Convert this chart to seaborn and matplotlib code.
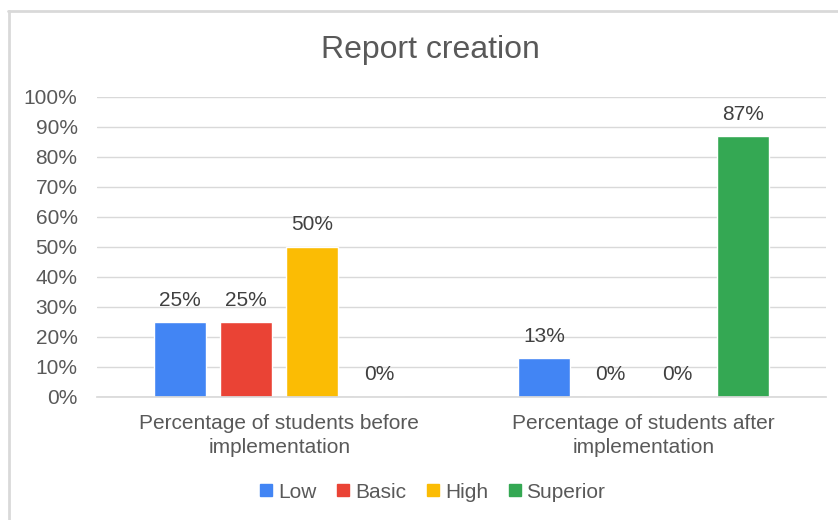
import matplotlib
matplotlib.use("Agg")
import matplotlib.pyplot as plt
import seaborn as sns
import pandas as pd
from matplotlib.lines import Line2D
from matplotlib.ticker import FuncFormatter

groups = ["Percentage of students before\nimplementation",
          "Percentage of students after\nimplementation"]
levels = ["Low", "Basic", "High", "Superior"]
before = [25, 25, 50, 0]
after = [13, 0, 0, 87]
colors = ["#4285F4", "#EA4335", "#FBBC04", "#34A853"]

rows = []
for g, vals in zip(groups, [before, after]):
    for lv, v in zip(levels, vals):
        rows.append({"group": g, "level": lv, "value": v})
df = pd.DataFrame(rows)

sns.set_theme(style="white")
plt.rcParams["font.family"] = ["Liberation Sans", "DejaVu Sans"]
text_c = "#595959"

fig = plt.figure(figsize=(8.38, 5.2), dpi=100)
ax = fig.add_axes([97/838, 1-397/520, (826-97)/838, 300/520])

sns.barplot(data=df, x="group", y="value", hue="level", hue_order=levels,
            palette=colors, width=0.729, gap=0.218, ax=ax, saturation=1,
            legend=False)

for cont in ax.containers:
    ax.bar_label(cont, fmt="%.0f%%", padding=9, fontsize=15, color="#404040")

ax.set_xlim(-0.5, 1.5)
ax.set_ylim(0, 100)
ax.set_yticks(range(0, 101, 10))
ax.yaxis.set_major_formatter(FuncFormatter(lambda v, p: f"{v:.0f}%"))
ax.set_xlabel("")
ax.set_ylabel("")
ax.grid(axis="y", color="#d9d9d9", linewidth=1)
ax.set_axisbelow(True)
for s in ["top", "right", "left"]:
    ax.spines[s].set_visible(False)
ax.spines["bottom"].set_color("#d9d9d9")
ax.tick_params(axis="both", length=0, labelsize=15, colors=text_c)
ax.tick_params(axis="y", pad=14)
ax.tick_params(axis="x", pad=12)
for t in ax.get_xticklabels():
    t.set_linespacing(1.35)

fig.text(430/838, 1-50/520, "Report creation", ha="center", va="center",
         fontsize=23, color=text_c)

handles = [Line2D([], [], marker="s", linestyle="none", markersize=8,
                  markerfacecolor=c, markeredgecolor=c) for c in colors]
fig.legend(handles, levels, loc="center", bbox_to_anchor=(433/838, 1-492/520),
           ncol=4, frameon=False, fontsize=15, handlelength=0.55,
           handletextpad=0.3, columnspacing=1.0, labelcolor=text_c)

# chart border (cropped: left and top only)
fig.add_artist(Line2D([8.5/838, 8.5/838], [0, 1-11/520], transform=fig.transFigure,
                      color="#d9d9d9", linewidth=2))
fig.add_artist(Line2D([8/838, 1], [1-11/520, 1-11/520], transform=fig.transFigure,
                      color="#d9d9d9", linewidth=2))

fig.savefig("out.png", dpi=100, facecolor="white")
